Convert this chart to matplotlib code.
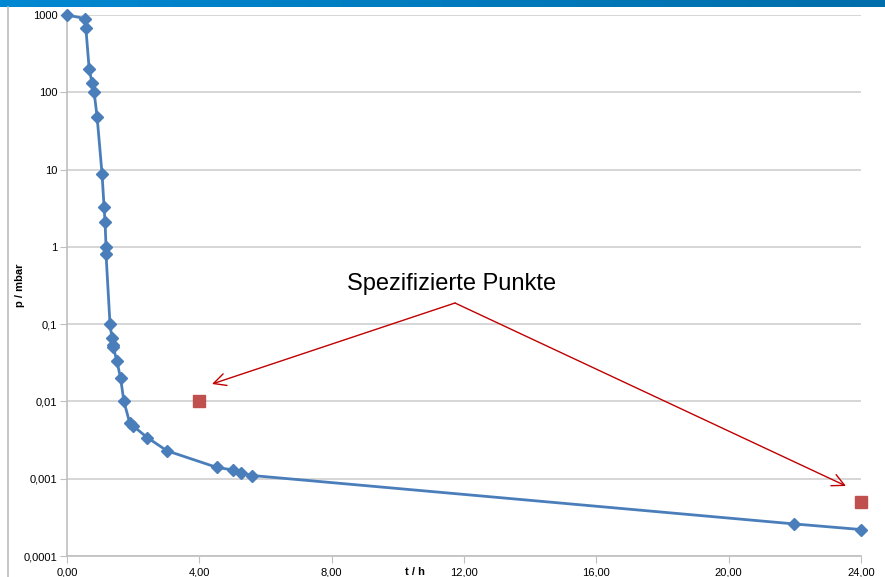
import matplotlib
matplotlib.use("Agg")
import matplotlib.pyplot as plt
from matplotlib.ticker import FixedLocator, FixedFormatter
import numpy as np

# measured curve: time in hours, pressure in mbar
t_h = [0.0, 0.54, 0.57, 0.67, 0.76, 0.82, 0.91, 1.06, 1.12, 1.15, 1.18, 1.18,
       1.30, 1.36, 1.39, 1.40, 1.51, 1.62, 1.72, 1.90, 2.00, 2.43, 3.02,
       4.53, 5.01, 5.25, 5.60, 21.98, 24.0]
p_mbar = [1000, 900, 680, 200, 130, 100, 48, 8.7, 3.3, 2.1, 1.0, 0.8,
          0.1, 0.066, 0.053, 0.050, 0.033, 0.020, 0.010, 0.0052, 0.0048,
          0.0034, 0.0023, 0.0014, 0.0013, 0.0012, 0.0011, 0.00026, 0.00022]

# specified points
spec_t = [4.0, 24.0]
spec_p = [0.01, 0.0005]

y_ticks = [1000, 100, 10, 1, 0.1, 0.01, 0.001, 0.0001]
y_labels = ["1000", "100", "10", "1", "0,1", "0,01", "0,001", "0,0001"]
x_ticks = [0, 4, 8, 12, 16, 20, 24]
x_labels = ["0,00", "4,00", "8,00", "12,00", "16,00", "20,00", "24,00"]

plt.rcParams['font.family'] = ['Liberation Sans', 'DejaVu Sans']

fig = plt.figure(figsize=(8.85, 5.77), dpi=100)

# blue header bar and frame line
bar = fig.add_axes([0, 1 - 7 / 577, 1, 7 / 577])
bar.imshow(np.linspace(0, 1, 256).reshape(1, -1), aspect='auto',
           cmap=matplotlib.colors.LinearSegmentedColormap.from_list('b', ['#0088d2', '#006eaa']))
bar.axis('off')
fig.add_artist(plt.Line2D([8 / 885, 8 / 885], [0, 1 - 7 / 577], color='#bfbfbf', lw=1.2))

ax = fig.add_axes([67 / 885, 21 / 577, 794 / 885, 541 / 577])
ax.set_yscale('log')
ax.set_xlim(0, 24)
ax.set_ylim(0.0001, 1000)

ax.plot(t_h, p_mbar, color='#4a7ebb', lw=2, marker='D', ms=6.5, mec='#4a7ebb',
        zorder=3, clip_on=False)
ax.plot(spec_t, spec_p, ls='none', marker='s', ms=8, color='#c0504d', zorder=3,
        clip_on=False)

ax.yaxis.set_major_locator(FixedLocator(y_ticks))
ax.yaxis.set_major_formatter(FixedFormatter(y_labels))
ax.yaxis.set_minor_locator(FixedLocator([]))
ax.set_xticks(x_ticks)
ax.set_xticklabels(x_labels)
ax.grid(axis='y', color='#d0d0d0', lw=1.2)
ax.set_axisbelow(True)
for s in ['top', 'right']:
    ax.spines[s].set_visible(False)
for s in ['left', 'bottom']:
    ax.spines[s].set_color('#bfbfbf')
    ax.spines[s].set_linewidth(1.2)
ax.tick_params(axis='y', length=5, color='#bfbfbf', labelsize=8, pad=2)
ax.tick_params(axis='x', length=5, color='#bfbfbf', labelsize=8, pad=3, direction='out')

fig.text(20 / 885, 1 - 285 / 577, "p / mbar", rotation=90, ha='center', va='center',
         fontsize=8, fontweight='bold')
fig.text(415 / 885, 1 - 572 / 577, "t / h", ha='center', va='center',
         fontsize=8, fontweight='bold')

fig.text(452 / 885, 1 - 284 / 577, "Spezifizierte Punkte", ha='center', va='center',
         fontsize=17)
start = (455 / 885, 1 - 303 / 577)
for tip in [(212 / 885, 1 - 384 / 577), (846 / 885, 1 - 486 / 577)]:
    ax.annotate("", xy=tip, xycoords='figure fraction', xytext=start,
                textcoords='figure fraction',
                arrowprops=dict(arrowstyle='->', color='#c00000', lw=1,
                                mutation_scale=22, shrinkA=0, shrinkB=0))

fig.savefig("out.png", dpi=100)
